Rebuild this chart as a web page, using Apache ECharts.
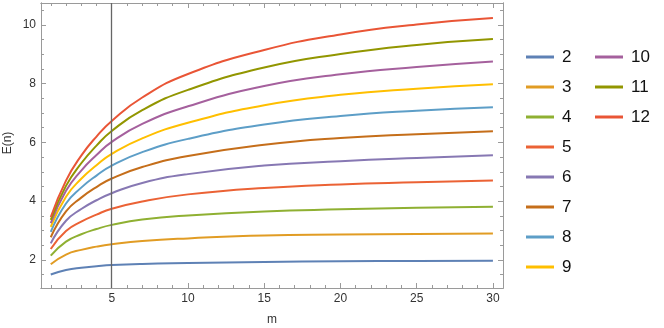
<!DOCTYPE html>
<html>
<head>
<meta charset="utf-8">
<script src="https://cdn.jsdelivr.net/npm/echarts@6/dist/echarts.min.js"></script>
<style>html,body{margin:0;padding:0;background:#fff;}#c{width:664px;height:328px;}</style>
</head>
<body>
<div id="c"></div>
<script>
// m sample positions
var mValues = [1, 2, 3, 4, 5, 7, 10, 15, 20, 25, 30];
// E(n) for each n
var e2  = [1.50, 1.65, 1.73, 1.78, 1.82, 1.86, 1.89, 1.93, 1.95, 1.96, 1.97];
var e3  = [1.85, 2.18, 2.34, 2.45, 2.53, 2.64, 2.73, 2.83, 2.86, 2.88, 2.90];
var e4  = [2.14, 2.62, 2.87, 3.05, 3.19, 3.37, 3.51, 3.65, 3.72, 3.77, 3.81];
var e5  = [2.37, 2.98, 3.30, 3.54, 3.74, 3.99, 4.23, 4.45, 4.57, 4.64, 4.70];
var e6  = [2.56, 3.33, 3.73, 4.03, 4.27, 4.62, 4.92, 5.21, 5.36, 5.47, 5.56];
var e7  = [2.77, 3.65, 4.12, 4.48, 4.77, 5.16, 5.54, 5.92, 6.15, 6.28, 6.38];
var e8  = [2.95, 3.92, 4.46, 4.87, 5.21, 5.67, 6.12, 6.61, 6.90, 7.08, 7.20];
var e9  = [3.12, 4.15, 4.76, 5.22, 5.61, 6.14, 6.67, 7.27, 7.62, 7.83, 7.98];
var e10 = [3.25, 4.35, 5.04, 5.57, 6.02, 6.63, 7.23, 7.92, 8.32, 8.57, 8.76];
var e11 = [3.36, 4.52, 5.29, 5.89, 6.39, 7.10, 7.79, 8.55, 9.01, 9.32, 9.52];
var e12 = [3.46, 4.70, 5.55, 6.20, 6.73, 7.53, 8.33, 9.15, 9.68, 10.02, 10.24];
var seriesNames = ['2','3','4','5','6','7','8','9','10','11','12'];
var seriesValues = [e2,e3,e4,e5,e6,e7,e8,e9,e10,e11,e12];
var markerM = 5;
// ticks
var xMajor = [5, 10, 15, 20, 25, 30];
var xMinor = [1,2,3,4,6,7,8,9,11,12,13,14,16,17,18,19,21,22,23,24,26,27,28,29];
var yMajor = [2, 4, 6, 8, 10];
var yMinor = [1.5,2.5,3,3.5,4.5,5,5.5,6.5,7,7.5,8.5,9,9.5,10.5];

var colors = ['#5E81B5','#E19C24','#8FB032','#EB6235','#8778B3','#C56E1A','#5D9EC7','#FFBF00','#A5609D','#929600','#E95536'];
var frameColor = '#9a9a9a';
var font = "'Liberation Sans', Arial, sans-serif";

function xAx(pos, ticks, len, labels) {
  return {
    type: 'value', position: pos, min: 0.36, max: 30.66,
    splitLine: {show: false},
    axisLine: {show: true, onZero: false, lineStyle: {color: frameColor, width: 1}},
    axisTick: {show: true, inside: true, length: len, customValues: ticks, lineStyle: {color: frameColor}},
    axisLabel: labels ? {show: true, customValues: ticks, margin: 5, color: '#333', fontSize: 12, fontFamily: font} : {show: false}
  };
}
function yAx(pos, ticks, len, labels) {
  return {
    type: 'value', position: pos, min: 1.04, max: 10.75,
    splitLine: {show: false},
    axisLine: {show: true, onZero: false, lineStyle: {color: frameColor, width: 1}},
    axisTick: {show: true, inside: true, length: len, customValues: ticks, lineStyle: {color: frameColor}},
    axisLabel: labels ? {show: true, customValues: ticks, margin: 5, color: '#333', fontSize: 12, fontFamily: font} : {show: false}
  };
}

var series = seriesNames.map(function (name, i) {
  var s = {
    name: name, type: 'line', xAxisIndex: 0, yAxisIndex: 0,
    data: mValues.map(function (m, j) { return [m, seriesValues[i][j]]; }),
    smooth: 0.5, showSymbol: false, symbol: 'none',
    lineStyle: {width: 2, color: colors[i]}, itemStyle: {color: colors[i]},
    z: 3
  };
  if (i === 0) {
    s.markLine = {
      silent: true, symbol: ['none','none'], animation: false,
      label: {show: false},
      lineStyle: {color: '#666', width: 1.3, type: 'solid'},
      data: [{xAxis: markerM}]
    };
  }
  return s;
});

var chart = echarts.init(document.getElementById('c'), null, {renderer: 'canvas'});
chart.setOption({
  animation: false,
  grid: {left: 41, right: 161, top: 3, bottom: 40, containLabel: false},
  xAxis: [
    xAx('bottom', xMajor, 5, true),
    xAx('bottom', xMinor, 3, false),
    xAx('top', xMajor, 5, false),
    xAx('top', xMinor, 3, false)
  ],
  yAxis: [
    yAx('left', yMajor, 5, true),
    yAx('left', yMinor, 3, false),
    yAx('right', yMajor, 5, false),
    yAx('right', yMinor, 3, false)
  ],
  legend: [
    {data: seriesNames.slice(0, 8), orient: 'vertical', left: 526, top: 47, padding: 0,
     icon: 'rect', itemWidth: 28, itemHeight: 3, itemGap: 10,
     textStyle: {fontSize: 17, lineHeight: 20, color: '#111', fontFamily: font, padding: [0,0,0,3]}},
    {data: seriesNames.slice(8), orient: 'vertical', left: 595, top: 47, padding: 0,
     icon: 'rect', itemWidth: 28, itemHeight: 3, itemGap: 10,
     textStyle: {fontSize: 17, lineHeight: 20, color: '#111', fontFamily: font, padding: [0,0,0,3]}}
  ],
  graphic: [
    {type: 'text', x: 8, y: 143, rotation: Math.PI / 2,
     style: {text: 'E(n)', fill: '#333', font: '12px ' + font, align: 'center', verticalAlign: 'middle'}},
    {type: 'text', x: 272, y: 320,
     style: {text: 'm', fill: '#333', font: '12px ' + font, align: 'center', verticalAlign: 'middle'}}
  ],
  series: series
});
</script>
</body>
</html>
